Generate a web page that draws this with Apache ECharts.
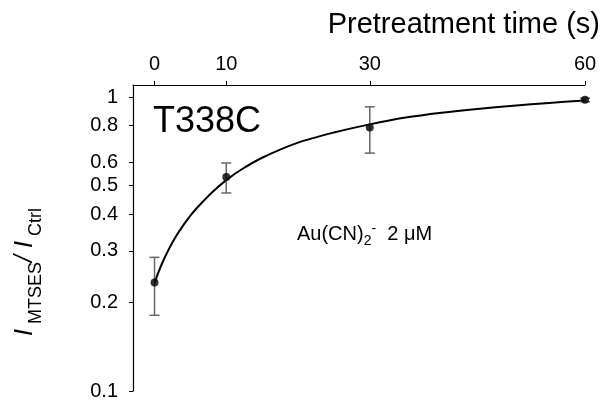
<!DOCTYPE html>
<html>
<head>
<meta charset="utf-8">
<script src="https://cdn.jsdelivr.net/npm/echarts@6/dist/echarts.min.js"></script>
<style>
  html, body { margin: 0; padding: 0; background: #fff; }
  #main { width: 605px; height: 401px; }
</style>
</head>
<body>
<div id="main"></div>
<script>
// measured points (mean +/- error)
var times = [0, 10, 30, 60];
var means = [0.234, 0.535, 0.789, 0.979];
var errLow = [0.181, 0.472, 0.645, 0.965];
var errHigh = [0.285, 0.597, 0.927, 0.992];

// fitted curve
var fitTimes = [0, 1, 2, 3, 4, 5, 6, 8, 10, 12, 15, 20, 25, 30, 35, 40, 45, 50, 55, 60];
var fitValues = [0.234, 0.270, 0.304, 0.336, 0.366, 0.395, 0.422, 0.474, 0.522, 0.565, 0.622, 0.700, 0.758, 0.808, 0.852, 0.885, 0.912, 0.935, 0.956, 0.975];

// tick labels
var xTicks = [0, 10, 30, 60];
var yTicks = [0.1, 0.2, 0.3, 0.4, 0.5, 0.6, 0.8, 1];

var FONT = 'Arial, "Liberation Sans", sans-serif';

var myChart = echarts.init(document.getElementById('main'), null, { renderer: 'canvas' });

var points = times.map(function (t, i) { return [t, means[i]]; });
var bars = times.map(function (t, i) { return [t, errLow[i], errHigh[i]]; });
var curve = fitTimes.map(function (t, i) { return [t, fitValues[i]]; });

var option = {
    animation: false,
    backgroundColor: '#fff',
    grid: { left: 133, right: 20, top: 85, bottom: 8 },
    xAxis: {
        type: 'value',
        position: 'top',
        min: -3,
        max: 60,
        splitLine: { show: false },
        axisLine: { onZero: false, lineStyle: { color: '#000', width: 1.2 } },
        axisTick: { customValues: xTicks, length: 4, lineStyle: { color: '#000' } },
        axisLabel: { customValues: xTicks, margin: 11, color: '#000', fontSize: 20, fontFamily: FONT }
    },
    yAxis: {
        type: 'log',
        min: 0.1,
        max: 1.1,
        splitLine: { show: false },
        minorTick: { show: false },
        axisLine: { onZero: false, lineStyle: { color: '#000', width: 1.2 } },
        axisTick: { customValues: yTicks, length: 4, lineStyle: { color: '#000' } },
        axisLabel: {
            customValues: yTicks, margin: 15, color: '#000', fontSize: 20, fontFamily: FONT,
            formatter: function (v) { return String(+v.toFixed(2)); }
        }
    },
    graphic: [
        {
            type: 'text', x: 600, y: 25,
            style: { text: 'Pretreatment time (s)', font: '29px ' + FONT, fill: '#000', align: 'right', verticalAlign: 'middle' }
        },
        {
            type: 'text', x: 153, y: 122,
            style: { text: 'T338C', font: '36px ' + FONT, fill: '#000', align: 'left', verticalAlign: 'middle' }
        },
        {
            type: 'text', x: 297, y: 234,
            style: {
                text: '{n|Au(CN)}{sub|2}{sup|-}{n|  2 μM}',
                fill: '#000', align: 'left', verticalAlign: 'middle',
                rich: {
                    n: { fontSize: 20, fontFamily: FONT, lineHeight: 28, verticalAlign: 'middle' },
                    sub: { fontSize: 14, fontFamily: FONT, lineHeight: 14, verticalAlign: 'bottom' },
                    sup: { fontSize: 14, fontFamily: FONT, lineHeight: 14, verticalAlign: 'top', padding: [2, 0, 0, 0] }
                }
            }
        },
        {
            type: 'text', x: 33, y: 272, rotation: Math.PI / 2,
            style: {
                text: '{i|I}{sub| MTSES}{i|/ I}{sub| Ctrl}',
                fill: '#000', align: 'center', verticalAlign: 'middle',
                rich: {
                    i: { fontSize: 25, fontStyle: 'italic', fontFamily: FONT, lineHeight: 25, verticalAlign: 'bottom', padding: [0, 0, 8, 0] },
                    sub: { fontSize: 18, fontFamily: FONT, lineHeight: 18, verticalAlign: 'bottom' }
                }
            }
        }
    ],
    series: [
        {
            name: 'fit',
            type: 'line',
            data: curve,
            smooth: 0.3,
            showSymbol: false,
            lineStyle: { color: '#000', width: 2 },
            z: 2
        },
        {
            name: 'error',
            type: 'custom',
            data: bars,
            renderItem: function (params, api) {
                var x = api.value(0);
                var lo = api.coord([x, api.value(1)]);
                var hi = api.coord([x, api.value(2)]);
                var w = 5;
                var st = { stroke: '#666', lineWidth: 1.5 };
                return {
                    type: 'group',
                    children: [
                        { type: 'line', shape: { x1: lo[0], y1: lo[1], x2: hi[0], y2: hi[1] }, style: st },
                        { type: 'line', shape: { x1: lo[0] - w, y1: lo[1], x2: lo[0] + w, y2: lo[1] }, style: st },
                        { type: 'line', shape: { x1: hi[0] - w, y1: hi[1], x2: hi[0] + w, y2: hi[1] }, style: st }
                    ]
                };
            },
            z: 3
        },
        {
            name: 'mean',
            type: 'scatter',
            data: points,
            symbol: 'circle',
            symbolSize: 8,
            itemStyle: { color: '#000' },
            z: 4
        }
    ]
};

myChart.setOption(option);
window.addEventListener('resize', function () {
    myChart.resize();
});
</script>
</body>
</html>
